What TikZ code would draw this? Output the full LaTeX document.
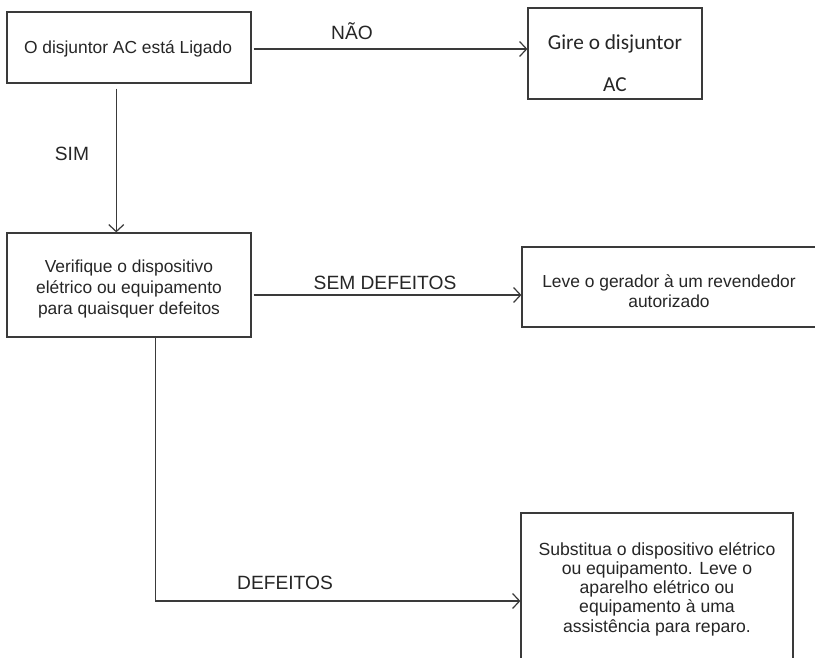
\documentclass[tikz,border=0pt]{standalone}
\usepackage{fontspec}
\setmainfont{Liberation Sans}
\newfontfamily\calfont{Carlito}
\usetikzlibrary{arrows.meta,calc}
\definecolor{linec}{HTML}{3A3A3A}
\definecolor{textc}{HTML}{262626}
\tikzset{
  box/.style={draw=linec, line width=1.2pt, fill=white, inner sep=0pt, anchor=center},
  boxtext/.style={text=textc, align=center, inner sep=0pt, font=\fontsize{17.4}{20.5}\selectfont},
  lbl/.style={text=textc, inner sep=0pt, font=\fontsize{19.2}{22}\selectfont},
  conn/.style={draw=linec, line width=1.2pt},
  arr/.style={conn, -{Straight Barb[length=7pt,width=15pt,line width=1.2pt]}}
}
\begin{document}
\begin{tikzpicture}[x=1pt,y=-1pt]
\useasboundingbox[fill=white] (0,0) rectangle (815,657);

% boxes
\node[box, minimum width=244, minimum height=71] (b1) at (129,47.5) {};
\node[boxtext] (t1) at (128,49) {O disjuntor AC está Ligado};

\node[box, minimum width=174, minimum height=91] (b2) at (615,53.5) {};
\node[text=textc, align=center, inner sep=0pt, font=\calfont\fontsize{21.3}{42}\selectfont] (t2) at (615,63) {Gire o disjuntor\\AC};

\node[box, minimum width=244, minimum height=104] (b3) at (129,285) {};
\node[boxtext, font=\fontsize{17.4}{21}\selectfont] (t3) at (129,289) {Verifique o dispositivo\\elétrico ou equipamento\\para quaisquer defeitos};

\node[box, minimum width=294, minimum height=80] (b4) at (669,287) {};
\node[boxtext] (t4) at (669,291) {Leve o gerador à um revendedor\\autorizado};

\node[box, minimum width=272, minimum height=176] (b5) at (657,601) {};
\node[boxtext, font=\fontsize{17.6}{19.2}\selectfont] (t5) at (657,589) {Substitua o dispositivo elétrico\\ou equipamento. Leve o\\aparelho elétrico ou\\equipamento à uma\\assistência para reparo.};

% connectors
\draw[arr] ([xshift=2pt,yshift=-1.5pt]b1.east) -- ([yshift=-1.5pt]b1.east -| b2.west);
\node[lbl] (lno) at (352,31) {NÃO};

\coordinate (s1) at ($(b1.south west)!0.448!(b1.south east)$);
\draw[arr, shorten <=5pt] (s1) -- (s1 |- b3.north);
\node[lbl] (lsim) at (72,154) {SIM};

\draw[arr] ([xshift=2pt,yshift=-10pt]b3.east) -- ([yshift=-10pt]b3.east -| b4.west);
\node[lbl] (lsem) at (385,283) {SEM DEFEITOS};

\coordinate (s3) at ($(b3.south west)!0.607!(b3.south east)$);
\draw[arr] (s3) |- (b5.west);
\node[lbl] (ldef) at (285,583) {DEFEITOS};
\end{tikzpicture}
\end{document}
